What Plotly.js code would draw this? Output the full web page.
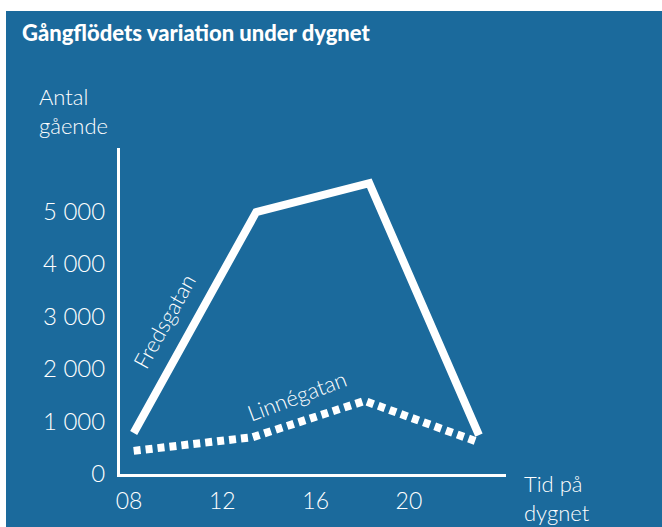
<!DOCTYPE html>
<html>
<head>
<meta charset="utf-8">
<script src="https://cdn.plot.ly/plotly-3.0.1.min.js"></script>
<style>
html,body{margin:0;padding:0;background:#ffffff;}
#chart{width:662px;height:527px;}
</style>
</head>
<body>
<div id="chart"></div>
<script>
// Data
const hours = [8.2, 13.45, 18.3, 23.0];
const fredsgatan = [780, 4980, 5530, 740];
const linneHours = [8.2, 13.3, 18.1, 22.95];
const linnegatan = [440, 700, 1390, 610];
const yTickVals = [0, 1000, 2000, 3000, 4000, 5000];
const yTickText = ["0", "1 000", "2 000", "3 000", "4 000", "5 000"];
const xTickVals = [8, 12, 16, 20];
const xTickText = ["08", "12", "16", "20"];

const BLUE = "#1B6A9C";
const FONT = "Lato, 'Open Sans', sans-serif";

// plot area in pixels
const L = 120, R = 156, T = 148, B = 53, W = 662, H = 527;
const pw = W - L - R, ph = H - T - B;
const px2x = p => (p - L) / pw;
const py2y = p => (H - B - p) / ph;

const traces = [
  {x: hours, y: fredsgatan, mode: "lines", name: "Fredsgatan",
   line: {color: "#ffffff", width: 8}, hoverinfo: "skip"},
  {x: linneHours, y: linnegatan, mode: "lines", name: "Linnégatan",
   line: {color: "#ffffff", width: 8, dash: "7px,5px"}, hoverinfo: "skip"}
];

const txt = (size) => ({family: FONT, size: size, color: "#ffffff", weight: 300});

const layout = {
  width: W, height: H,
  margin: {l: L, r: R, t: T, b: B, pad: 0},
  paper_bgcolor: "#ffffff",
  plot_bgcolor: "rgba(0,0,0,0)",
  showlegend: false,
  font: txt(22),
  title: {
    text: "Gångflödets variation under dygnet",
    x: 22 / W, xanchor: "left", xref: "container",
    y: 1 - 33 / H, yanchor: "middle", yref: "container",
    font: {family: FONT, size: 22, color: "#ffffff", weight: 900}
  },
  xaxis: {
    range: [7.614, 24.16], showgrid: false, zeroline: false,
    showline: true, linecolor: "#ffffff", linewidth: 3,
    ticks: "", tickvals: xTickVals, ticktext: xTickText,
    tickfont: txt(23),
    ticklabelstandoff: 4, fixedrange: true
  },
  yaxis: {
    range: [0, 6200], showgrid: false, zeroline: false,
    showline: true, linecolor: "#ffffff", linewidth: 3,
    ticks: "", tickvals: yTickVals, ticktext: yTickText,
    tickfont: txt(24),
    ticklabelstandoff: 7, fixedrange: true
  },
  shapes: [{
    type: "rect", xref: "paper", yref: "paper", layer: "below",
    x0: px2x(6), x1: px2x(662), y0: py2y(527), y1: py2y(11),
    fillcolor: BLUE, line: {width: 0}
  }],
  annotations: [
    {text: "Antal<br>gående", xref: "paper", yref: "paper",
     x: px2x(37), y: py2y(111), xanchor: "left", yanchor: "middle", align: "left",
     showarrow: false, font: txt(22)},
    {text: "Tid på<br>dygnet", xref: "paper", yref: "paper",
     x: px2x(522), y: py2y(498), xanchor: "left", yanchor: "middle", align: "left",
     showarrow: false, font: txt(22)},
    {text: "Fredsgatan", xref: "x", yref: "y", x: 9.52, y: 2920,
     textangle: -61, showarrow: false, font: txt(22)},
    {text: "Linnégatan", xref: "x", yref: "y", x: 15.22, y: 1490,
     textangle: -20.5, showarrow: false, font: txt(22)}
  ]
};

Plotly.newPlot("chart", traces, layout, {staticPlot: true, displayModeBar: false});
</script>
</body>
</html>
